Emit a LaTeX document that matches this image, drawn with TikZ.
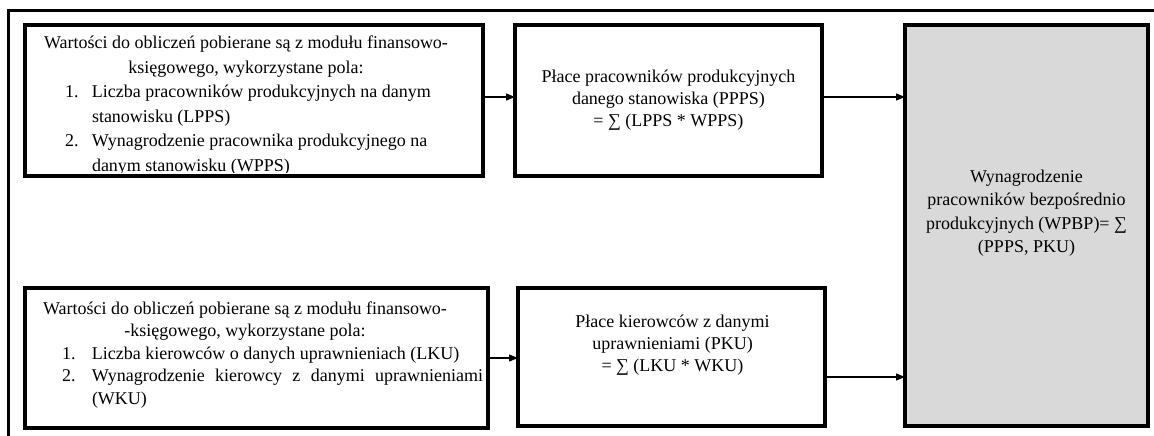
\documentclass[tikz,border=0pt]{standalone}
\usepackage{fontspec}
\setmainfont{Liberation Serif}
\usetikzlibrary{arrows.meta}
% font size 18pt with a given baseline skip
\newcommand\boxfont[1]{\fontsize{18}{#1}\selectfont}
\definecolor{panelgray}{HTML}{D9D9D9}
\begin{document}
\begin{tikzpicture}[x=1pt,y=-1pt,
  box/.style={draw, line width=3.5pt, inner sep=0pt, outer sep=0pt},
  txt/.style={inner sep=0pt, outer sep=0pt, anchor=base},
  arr/.style={line width=1.3pt, -{Triangle[length=9pt,width=7pt]}},
  frame/.style={line width=2.2pt}]
\useasboundingbox (0,0) rectangle (1154,436);

% open outer frame (left and top edges)
\coordinate (fbl) at (8.5,436);
\coordinate (ftl) at (8.5,10.5);
\coordinate (ftr) at (1154,10.5);
\draw[frame] (fbl) -- (ftl) -- (ftr);

% boxes
\node[box, minimum width=458pt, minimum height=151pt] (b1) at (254,100.5) {};
\node[box, minimum width=307pt, minimum height=151pt] (b2) at (668.5,100.5) {};
\node[box, fill=panelgray, minimum width=243pt, minimum height=401pt] (b3) at (1026.5,225.5) {};
\node[box, minimum width=463pt, minimum height=140pt] (b4) at (256.5,358) {};
\node[box, minimum width=307pt, minimum height=138pt] (b5) at (671.5,357) {};

% text of the first input box, cut off by its lower edge
\begin{scope}
\clip (25,25) rectangle (483,172.5);
\node[txt, anchor=base west] (t1) at (36,48.8) {\begin{minipage}[t]{450pt}\boxfont{24.5}\raggedright
\makebox[420pt][c]{Wartości do obliczeń pobierane są z modułu finansowo-}\\
\makebox[420pt][c]{księgowego, wykorzystane pola:}\\
\hspace*{29pt}\makebox[27pt][l]{1.}Liczba pracowników produkcyjnych na danym\\
\hspace*{56pt}stanowisku (LPPS)\\
\hspace*{29pt}\makebox[27pt][l]{2.}Wynagrodzenie pracownika produkcyjnego na\\
\hspace*{56pt}danym stanowisku (WPPS)
\end{minipage}};
\end{scope}
\node[box, minimum width=458pt, minimum height=151pt] at (b1) {};

\node[txt] (t2) at (668.5,82) {\begin{minipage}[t]{300pt}\boxfont{22}\centering
Płace pracowników produkcyjnych\\
danego stanowiska (PPPS)\\
= ∑ (LPPS * WPPS)
\end{minipage}};

\node[txt] (t3) at (1026.5,182) {\begin{minipage}[t]{236pt}\boxfont{23.5}\centering
Wynagrodzenie\\
pracowników bezpośrednio\\
produkcyjnych (WPBP)= ∑\\
(PPPS, PKU)
\end{minipage}};

\node[txt, anchor=base west] (t4) at (40,314) {\begin{minipage}[t]{450pt}\boxfont{22.5}\raggedright
\makebox[410pt][c]{Wartości do obliczeń pobierane są z modułu finansowo-}\\
\makebox[410pt][c]{-księgowego, wykorzystane pola:}\\
\hspace*{22pt}\makebox[30pt][l]{1.}Liczba kierowców o danych uprawnieniach (LKU)\\
\hspace*{22pt}\makebox[30pt][l]{2.}\makebox[391pt][s]{Wynagrodzenie kierowcy z danymi uprawnieniami}\\
\hspace*{52pt}(WKU)
\end{minipage}};

\node[txt] (t5) at (672.5,327) {\begin{minipage}[t]{300pt}\boxfont{22}\centering
Płace kierowców z danymi\\
uprawnieniami (PKU)\\
= ∑ (LKU * WKU)
\end{minipage}};

% connectors
\draw[arr] ([yshift=3.5pt]b1.east) -- ([yshift=3.5pt]b1.east -| b2.west);
\draw[arr] ([yshift=3.5pt]b2.east) -- ([yshift=3.5pt]b2.east -| b3.west);
\draw[arr] (b4.east) -- (b4.east -| b5.west);
\draw[arr] ([yshift=-20pt]b5.east) -- ([yshift=-20pt]b5.east -| b3.west);
\end{tikzpicture}
\end{document}
